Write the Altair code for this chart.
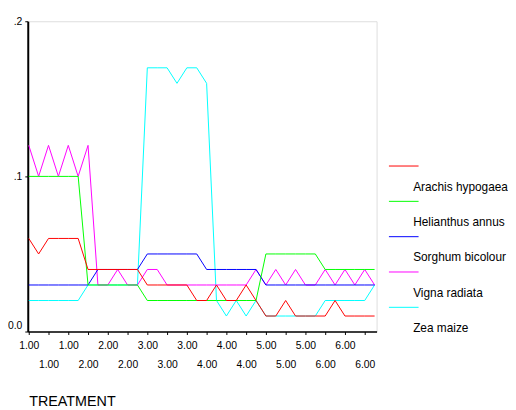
import altair as alt
import pandas as pd

# ---- data ----
species = ["Arachis hypogaea", "Helianthus annus", "Sorghum bicolour", "Vigna radiata", "Zea maize"]
colors = ["#ff0000", "#00ff00", "#0000ff", "#ff00ff", "#00ffff"]

treatment = ["1.00"] * 6 + ["2.00"] * 6 + ["3.00"] * 6 + ["4.00"] * 6 + ["5.00"] * 6 + ["6.00"] * 6

arachis = [.06, .05, .06, .06, .06, .06, .04, .04, .04, .04, .04, .04,
           .03, .03, .03, .03, .03, .02, .02, .03, .02, .02, .03, .02,
           .01, .01, .02, .01, .01, .01, .01, .02, .01, .01, .01, .01]
helianthus = [.10, .10, .10, .10, .10, .10, .03, .03, .03, .03, .03, .03,
              .02, .02, .02, .02, .02, .02, .02, .02, .02, .02, .02, .02,
              .05, .05, .05, .05, .05, .05, .04, .04, .04, .04, .04, .04]
sorghum = [.03, .03, .03, .03, .03, .03, .03, .04, .04, .04, .04, .04,
           .05, .05, .05, .05, .05, .05, .04, .04, .04, .04, .04, .04,
           .03, .03, .03, .03, .03, .03, .03, .03, .03, .03, .03, .03]
vigna = [.12, .10, .12, .10, .12, .10, .12, .03, .03, .04, .03, .03,
         .04, .04, .03, .03, .03, .03, .03, .03, .03, .03, .03, .04,
         .03, .04, .03, .04, .03, .03, .04, .03, .04, .03, .04, .03]
zea = [.02, .02, .02, .02, .02, .02, .03, .03, .03, .03, .03, .03,
       .17, .17, .17, .16, .17, .17, .16, .02, .01, .02, .01, .02,
       .01, .01, .01, .01, .01, .01, .02, .02, .02, .02, .02, .03]

series = {
    "Arachis hypogaea": arachis,
    "Helianthus annus": helianthus,
    "Sorghum bicolour": sorghum,
    "Vigna radiata": vigna,
    "Zea maize": zea,
}
# drawing order (bottom to top)
draw_order = ["Zea maize", "Vigna radiata", "Sorghum bicolour", "Helianthus annus", "Arachis hypogaea"]

rows = []
for name, vals in series.items():
    for i, v in enumerate(vals):
        rows.append({"case": i, "value": v, "species": name})
df = pd.DataFrame(rows)

FONT = "Liberation Sans"
label_arr = "[" + ",".join("'" + t + "'" for t in treatment) + "]"

x_axis = alt.Axis(
    values=list(range(0, len(treatment), 2)),
    labelExpr=f"datum.value % 4 == 0 ? {label_arr}[datum.value] : ['', {label_arr}[datum.value]]",
    labelOverlap=False,
    labelFlush=False,
    labelBaseline="top",
    labelLineHeight=19,
    labelFontSize=10.5,
    labelFont=FONT,
    labelColor="#000",
    labelPadding=6,
    tickSize=3,
    tickColor="#000",
    domainColor="#000",
    domainWidth=1.5,
    grid=False,
    title="TREATMENT",
    titleFont=FONT,
    titleFontSize=14.5,
    titleFontWeight="normal",
    titleColor="#000",
    titleAnchor="start",
    titleAlign="left",
    titleBaseline="alphabetic",
    titleX=1,
    titleY=75,
)

y_axis = alt.Axis(
    values=[0, 0.1, 0.2],
    labelExpr="datum.value == 0 ? '0.0' : '.' + toString(round(datum.value * 10))",
    labelFontSize=10.5,
    labelFont=FONT,
    labelColor="#000",
    labelPadding=3,
    labelOffset={"condition": {"test": "datum.value == 0", "value": -6}, "value": 0},
    tickSize=3,
    tickColor="#000",
    domainColor="#000",
    domainWidth=2,
    grid=False,
    title=None,
)

legend = alt.Legend(
    orient="none",
    legendX=359,
    legendY=152,
    title=None,
    padding=0,
    symbolType="M-0.6,-1.4H1.4",
    symbolSize=900,
    symbolStrokeWidth=1,
    labelOffset=0,
    labelFont=FONT,
    labelFontSize=12,
    labelColor="#000",
    rowPadding=5.75,
)

x_enc = alt.X("case:Q", scale=alt.Scale(domain=[-0.1, 35.2], nice=False, zero=False), axis=x_axis)
y_enc = alt.Y("value:Q", scale=alt.Scale(domain=[0, 0.2], nice=False, zero=True), axis=y_axis)
c_enc = alt.Color("species:N", scale=alt.Scale(domain=species, range=colors), legend=legend)

base = alt.Chart(df)
layers = [
    base.transform_filter(alt.datum.species == name)
    .mark_line(strokeWidth=1)
    .encode(x=x_enc, y=y_enc, color=c_enc)
    for name in draw_order
]

chart = alt.layer(*layers).properties(
    width=353,
    height=314,
    autosize=alt.AutoSizeParams(type="none"),
    padding={"left": 20, "top": 11, "right": 133, "bottom": 78},
).configure_view(
    stroke="#444", strokeWidth=1
).configure(background="white")

chart.save("out.html", embed_options={"renderer": "svg", "actions": False})
